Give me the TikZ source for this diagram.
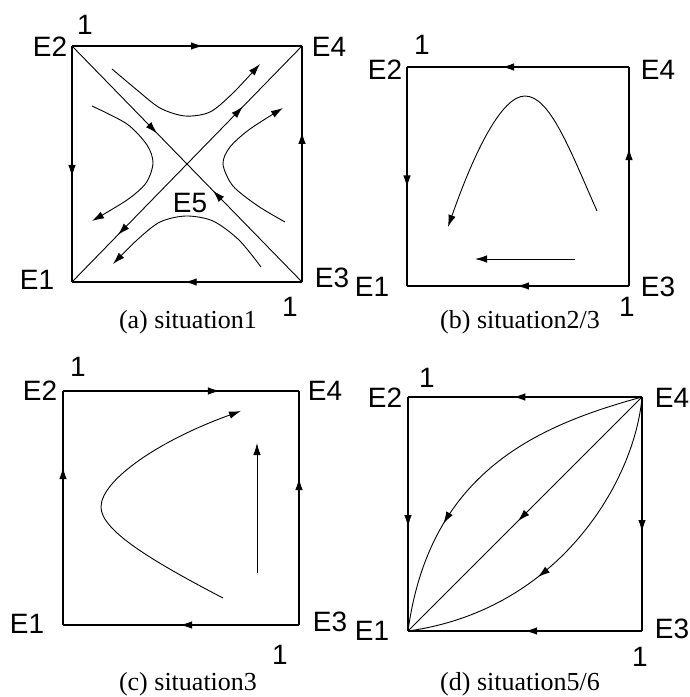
\documentclass[tikz,border=0pt]{standalone}
\usepackage{fontspec}
\setmainfont{Liberation Serif}
\newfontfamily\lab{Liberation Sans}
\usetikzlibrary{arrows.meta,decorations.markings}
\begin{document}
\begin{tikzpicture}[x=1pt,y=-1pt,
  >={Latex[length=12pt,width=7.5pt]},
  sqedge/.style={line width=1.1pt},
  traj/.style={line width=0.9pt},
  fwd/.style={postaction={decorate,decoration={markings,mark=at position #1 with {\arrow{>}}}}},
  bwd/.style={postaction={decorate,decoration={markings,mark=at position #1 with {\arrowreversed{>}}}}},
  lbl/.style={font=\lab\fontsize{28}{28}\selectfont, inner sep=0pt},
  captxt/.style={font=\fontsize{26}{26}\selectfont, inner sep=0pt}]
\useasboundingbox (0,0) rectangle (689,697);

% ---------- (a) ----------
\coordinate (a1) at (72,282); \coordinate (a2) at (72,46);
\coordinate (a3) at (302,282); \coordinate (a4) at (302,46);
\draw[sqedge,fwd=0.57] (a2) -- (a4);
\draw[sqedge,fwd=0.555] (a2) -- (a1);
\draw[sqedge,fwd=0.636] (a3) -- (a4);
\draw[sqedge,fwd=0.51] (a3) -- (a1);
\draw[traj,fwd=0.37,bwd=0.613] (a2) -- (a3);
\draw[traj,fwd=0.743,bwd=0.2] (a1) -- (a4);
\draw[traj,->] plot[smooth] coordinates {(112,69) (137,90) (160,108) (185,116) (210,112) (233,93) (260,64)};
\draw[traj,->] plot[smooth] coordinates {(92,106) (127,124) (147,145) (153,163) (146,183) (127,200) (92,221)};
\draw[traj,->] plot[smooth] coordinates {(285,222) (258,206) (233,186) (223,164) (230,147) (250,129) (283,108)};
\draw[traj,->] plot[smooth] coordinates {(261,267) (239,240) (213,221) (186,216) (160,222) (137,240) (113,264)};
\node[lbl] (aE2) at (50,47) {E2};
\node[lbl] (aone) at (85,25) {1};
\node[lbl] (aE4) at (329,47) {E4};
\node[lbl] (aE1) at (37,280) {E1};
\node[lbl] (aE3) at (332,278) {E3};
\node[lbl] (aonex) at (290,307) {1};
\node[lbl] (aE5) at (190,203) {E5};
\node[captxt] (acap) at (188,322) {(a) situation1};

% ---------- (b) ----------
\coordinate (b1) at (407,286); \coordinate (b2) at (407,67);
\coordinate (b3) at (629,286); \coordinate (b4) at (629,67);
\draw[sqedge,fwd=0.572] (b4) -- (b2);
\draw[sqedge,fwd=0.55] (b2) -- (b1);
\draw[sqedge,fwd=0.63] (b3) -- (b4);
\draw[sqedge,fwd=0.505] (b3) -- (b1);
\coordinate (bs) at (597,211); \coordinate (bp) at (525,96); \coordinate (be) at (448,227);
\draw[traj,->] (bs) .. controls (570,150) and (550,96) .. (bp)
  .. controls (502,96) and (475,150) .. (be);
\coordinate (bh1) at (575,259); \coordinate (bh2) at (475,259);
\draw[traj,->] (bh1) -- (bh2);
\node[lbl] (bE2) at (385,70) {E2};
\node[lbl] (bone) at (422,45) {1};
\node[lbl] (bE4) at (658,70) {E4};
\node[lbl] (bE1) at (372,287) {E1};
\node[lbl] (bE3) at (658,287) {E3};
\node[lbl] (bonex) at (627,307) {1};
\node[captxt] (bcap) at (520,322) {(b) situation2/3};

% ---------- (c) ----------
\coordinate (c1) at (63,625); \coordinate (c2) at (63,391);
\coordinate (c3) at (299,625); \coordinate (c4) at (299,391);
\draw[sqedge,fwd=0.665] (c2) -- (c4);
\draw[sqedge,fwd=0.675] (c1) -- (c2);
\draw[sqedge,fwd=0.628] (c3) -- (c4);
\draw[sqedge,fwd=0.504] (c3) -- (c1);
\coordinate (cs) at (223,598); \coordinate (cp) at (101,507); \coordinate (ce) at (241,411);
\draw[traj,->] (cs) .. controls (150,560) and (101,530) .. (cp)
  .. controls (101,480) and (160,440) .. (ce);
\coordinate (cv1) at (257,573); \coordinate (cv2) at (257,443);
\draw[traj,->] (cv1) -- (cv2);
\node[lbl] (cE2) at (40,391) {E2};
\node[lbl] (cone) at (78,367) {1};
\node[lbl] (cE4) at (325,391) {E4};
\node[lbl] (cE1) at (27,624) {E1};
\node[lbl] (cE3) at (330,622) {E3};
\node[lbl] (conex) at (280,655) {1};
\node[captxt] (ccap) at (188,684) {(c) situation3};

% ---------- (d) ----------
\coordinate (d1) at (408,631); \coordinate (d2) at (408,397);
\coordinate (d3) at (642,631); \coordinate (d4) at (642,397);
\draw[sqedge,fwd=0.55] (d4) -- (d2);
\draw[sqedge,fwd=0.556] (d2) -- (d1);
\draw[sqedge,fwd=0.577] (d4) -- (d3);
\draw[sqedge,fwd=0.5] (d3) -- (d1);
\draw[traj,fwd=0.53] (d4) -- (d1);
\draw[traj,fwd=0.68] (d4) .. controls (540,425) and (430,470) .. (d1);
\draw[traj,fwd=0.6] (d4) .. controls (635,480) and (560,610) .. (d1);
\node[lbl] (dE2) at (385,398) {E2};
\node[lbl] (done) at (427,378) {1};
\node[lbl] (dE4) at (672,398) {E4};
\node[lbl] (dE1) at (372,631) {E1};
\node[lbl] (dE3) at (672,629) {E3};
\node[lbl] (donex) at (640,657) {1};
\node[captxt] (dcap) at (520,684) {(d) situation5/6};
\end{tikzpicture}
\end{document}
